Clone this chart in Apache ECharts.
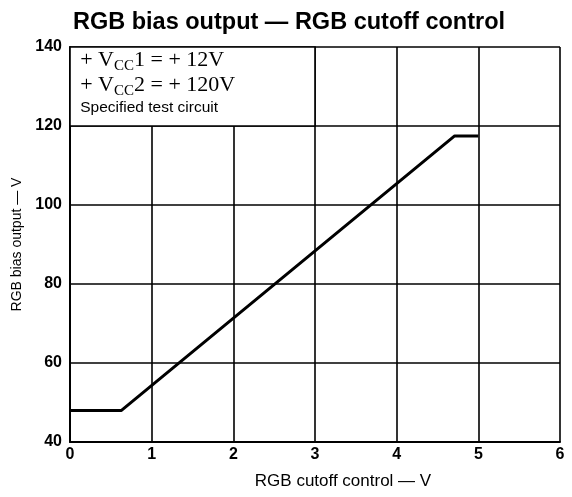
<!DOCTYPE html>
<html><head><meta charset="utf-8">
<script src="https://cdn.jsdelivr.net/npm/echarts@6/dist/echarts.min.js"></script>
<style>html,body{margin:0;padding:0;background:#fff}#c{width:572px;height:497px}</style>
</head><body><div id="c"></div>
<script>
const titleText = 'RGB bias output — RGB cutoff control';
const xName = 'RGB cutoff control — V';
const yName = 'RGB bias output — V';
const cutoffV = [0, 0.63, 4.71, 5.0];
const biasV = [48, 48, 117.5, 117.5];
const xTicks = [0, 1, 2, 3, 4, 5, 6];
const yTicks = [40, 60, 80, 100, 120, 140];
const boxCorners = [[0, 140], [3, 120]];

const chart = echarts.init(document.getElementById('c'));
chart.setOption({
  animation: false,
  backgroundColor: '#fff',
  title: {
    text: titleText, left: 284, top: 6, textAlign: 'center',
    textStyle: {fontFamily: 'Liberation Sans', fontWeight: 'bold', fontSize: 23.5, color: '#000'}
  },
  grid: {left: 70, right: 12, top: 47, bottom: 55},
  xAxis: {
    type: 'value', min: xTicks[0], max: xTicks[xTicks.length - 1], interval: 1,
    name: xName, nameLocation: 'middle', nameGap: 31,
    nameTextStyle: {fontFamily: 'Liberation Sans', fontSize: 17, color: '#000', padding: [0, 0, 0, 56]},
    axisLine: {lineStyle: {color: '#000', width: 2}},
    axisTick: {show: false},
    axisLabel: {margin: 5, fontFamily: 'Liberation Sans', fontWeight: 'bold', fontSize: 16, color: '#000'},
    splitLine: {show: true, lineStyle: {color: '#000', width: 1.6}}
  },
  yAxis: {
    type: 'value', min: yTicks[0], max: yTicks[yTicks.length - 1], interval: 20,
    name: yName, nameLocation: 'middle', nameGap: 45, nameRotate: 90,
    nameTextStyle: {fontFamily: 'Liberation Sans', fontSize: 14, color: '#000'},
    axisLine: {lineStyle: {color: '#000', width: 2}},
    axisTick: {show: false},
    axisLabel: {margin: 8, fontFamily: 'Liberation Sans', fontWeight: 'bold', fontSize: 16, color: '#000'},
    splitLine: {show: true, lineStyle: {color: '#000', width: 1.6}}
  },
  series: [{
    type: 'line',
    data: cutoffV.map((x, i) => [x, biasV[i]]),
    showSymbol: false,
    lineStyle: {color: '#000', width: 3},
    z: 5,
    markArea: {
      silent: true,
      itemStyle: {color: '#fff', borderColor: '#000', borderWidth: 1.6, opacity: 1},
      label: {
        show: true, position: 'insideTopLeft', distance: 2,
        padding: [0, 0, 0, 9],
        rich: {
          s: {fontFamily: 'Liberation Serif', fontSize: 22, color: '#000', lineHeight: 25},
          sub: {fontFamily: 'Liberation Serif', fontSize: 15, color: '#000', verticalAlign: 'bottom', lineHeight: 21},
          t: {fontFamily: 'Liberation Sans', fontSize: 15.5, color: '#000', lineHeight: 20}
        },
        formatter: '{s|+ V}{sub|CC}{s|1 = + 12V}\n{s|+ V}{sub|CC}{s|2 = + 120V}\n{t|Specified test circuit}'
      },
      data: [[{coord: boxCorners[0]}, {coord: boxCorners[1]}]]
    }
  }]
});
</script>
</body></html>
